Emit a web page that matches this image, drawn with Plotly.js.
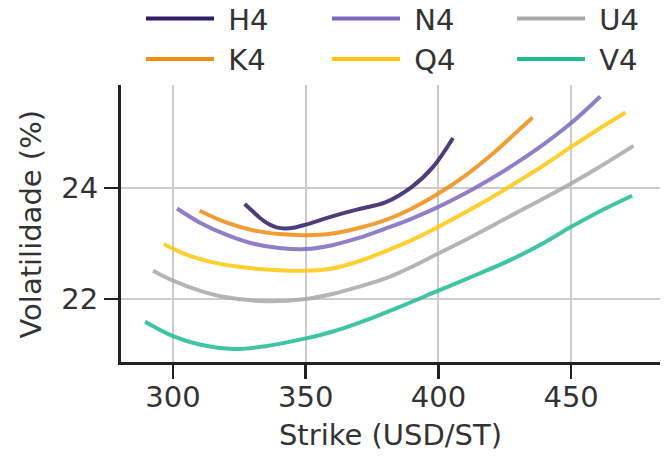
<!DOCTYPE html>
<html>
<head>
<meta charset="utf-8">
<script src="https://cdn.plot.ly/plotly-3.0.1.min.js"></script>
<style>html,body{margin:0;padding:0;background:#fff;}#chart{width:669px;height:472px;}</style>
</head>
<body>
<div id="chart"></div>
<script>
// Series names (legend columns)
const seriesNames = ["H4", "K4", "N4", "Q4", "U4", "V4"];

const strikeH4 = [327, 330, 333, 336, 339, 342, 346, 350, 360, 370, 380, 390, 398, 405.5];
const volH4    = [23.71, 23.58, 23.45, 23.35, 23.29, 23.27, 23.29, 23.34, 23.49, 23.62, 23.74, 24.02, 24.38, 24.90];

const strikeK4 = [310, 320, 330, 340, 350, 360, 370, 380, 390, 400, 410, 420, 430, 435.5];
const volK4    = [23.59, 23.38, 23.24, 23.17, 23.15, 23.18, 23.28, 23.42, 23.63, 23.90, 24.22, 24.60, 25.03, 25.27];

const strikeN4 = [301.5, 310, 320, 330, 340, 350, 360, 370, 380, 390, 400, 410, 420, 430, 440, 450, 461];
const volN4    = [23.63, 23.38, 23.16, 23.00, 22.92, 22.90, 22.97, 23.10, 23.27, 23.45, 23.66, 23.90, 24.17, 24.47, 24.80, 25.17, 25.65];

const strikeQ4 = [296.5, 305, 315, 325, 335, 350, 360, 370, 380, 390, 400, 410, 420, 430, 440, 450, 460, 470.5];
const volQ4    = [22.99, 22.80, 22.66, 22.58, 22.53, 22.51, 22.55, 22.68, 22.86, 23.06, 23.30, 23.56, 23.83, 24.12, 24.42, 24.74, 25.05, 25.36];

const strikeU4 = [292.5, 300, 310, 320, 335, 350, 360, 370, 380, 390, 400, 410, 420, 430, 440, 450, 460, 473.5];
const volU4    = [22.51, 22.33, 22.15, 22.03, 21.96, 22.00, 22.09, 22.22, 22.37, 22.58, 22.82, 23.06, 23.31, 23.57, 23.82, 24.08, 24.36, 24.76];

const strikeV4 = [289.5, 300, 310, 323, 335, 350, 360, 370, 385, 400, 415, 427, 440, 450, 460, 473];
const volV4    = [21.59, 21.33, 21.18, 21.10, 21.15, 21.29, 21.41, 21.57, 21.85, 22.15, 22.45, 22.70, 23.02, 23.30, 23.56, 23.86];

const xTickVals = [300, 350, 400, 450];
const yTickVals = [22, 24];

const xTitle = "Strike (USD/ST)";
const yTitle = "Volatilidade (%)";

const seriesData = {
  H4: [strikeH4, volH4], K4: [strikeK4, volK4], N4: [strikeN4, volN4],
  Q4: [strikeQ4, volQ4], U4: [strikeU4, volU4], V4: [strikeV4, volV4]
};
const colors = {
  H4: [46, 28, 100], K4: [240, 140, 16], N4: [123, 104, 192],
  Q4: [255, 197, 10], U4: [168, 168, 168], V4: [31, 187, 148]
};
const legendOf = {H4: "legend", K4: "legend", N4: "legend2", Q4: "legend2", U4: "legend3", V4: "legend3"};
const rgba = (c, a) => `rgba(${c[0]},${c[1]},${c[2]},${a})`;

const traces = [];
seriesNames.forEach(n => {
  traces.push({
    x: seriesData[n][0], y: seriesData[n][1], name: n, mode: "lines",
    type: "scatter", showlegend: false,
    line: {color: rgba(colors[n], 0.85), width: 4, shape: "spline", smoothing: 1}
  });
});
seriesNames.forEach(n => {
  traces.push({
    x: [null], y: [null], name: "\u00a0" + n, mode: "lines", type: "scatter",
    legend: legendOf[n], legendgroup: n,
    line: {color: rgba(colors[n], 1), width: 4}
  });
});

const font = {family: "DejaVu Sans", size: 29, color: "#333333"};

const legendBase = (xpx) => ({
  orientation: "v", xref: "container", yref: "paper",
  x: xpx / 669, y: 1.332, xanchor: "left", yanchor: "top",
  font: font, itemwidth: 68, tracegroupgap: 3,
  bgcolor: "rgba(0,0,0,0)", traceorder: "normal"
});

const layout = {
  width: 669, height: 472,
  margin: {l: 121, r: 9, t: 85, b: 110, autoexpand: false},
  paper_bgcolor: "#ffffff", plot_bgcolor: "#ffffff",
  font: font,
  showlegend: true,
  legend: legendBase(141),
  legend2: legendBase(327),
  legend3: legendBase(512),
  xaxis: {
    range: [280.4, 483.5], tickvals: xTickVals, ticktext: xTickVals.map(String),
    showgrid: true, gridcolor: "#cccccc", gridwidth: 2,
    zeroline: false, showline: true, linecolor: "#222222", linewidth: 3,
    ticks: "outside", ticklen: 14, tickwidth: 2.5, tickcolor: "#222222",
    tickfont: font, automargin: false, ticklabelstandoff: -7,
    title: {text: xTitle, font: font, standoff: 12}
  },
  yaxis: {
    range: [20.865, 25.856], tickvals: yTickVals, ticktext: yTickVals.map(String),
    showgrid: true, gridcolor: "#cccccc", gridwidth: 2,
    zeroline: false, showline: true, linecolor: "#222222", linewidth: 3,
    ticks: "outside", ticklen: 14, tickwidth: 2.5, tickcolor: "#222222",
    tickfont: font, automargin: false
  },
  annotations: [{
    text: yTitle, textangle: -90, xref: "paper", yref: "paper",
    x: -0.167, y: 0.5, xanchor: "center", yanchor: "middle",
    showarrow: false, font: font
  }]
};

Plotly.newPlot("chart", traces, layout, {staticPlot: true, displayModeBar: false});
</script>
</body>
</html>
